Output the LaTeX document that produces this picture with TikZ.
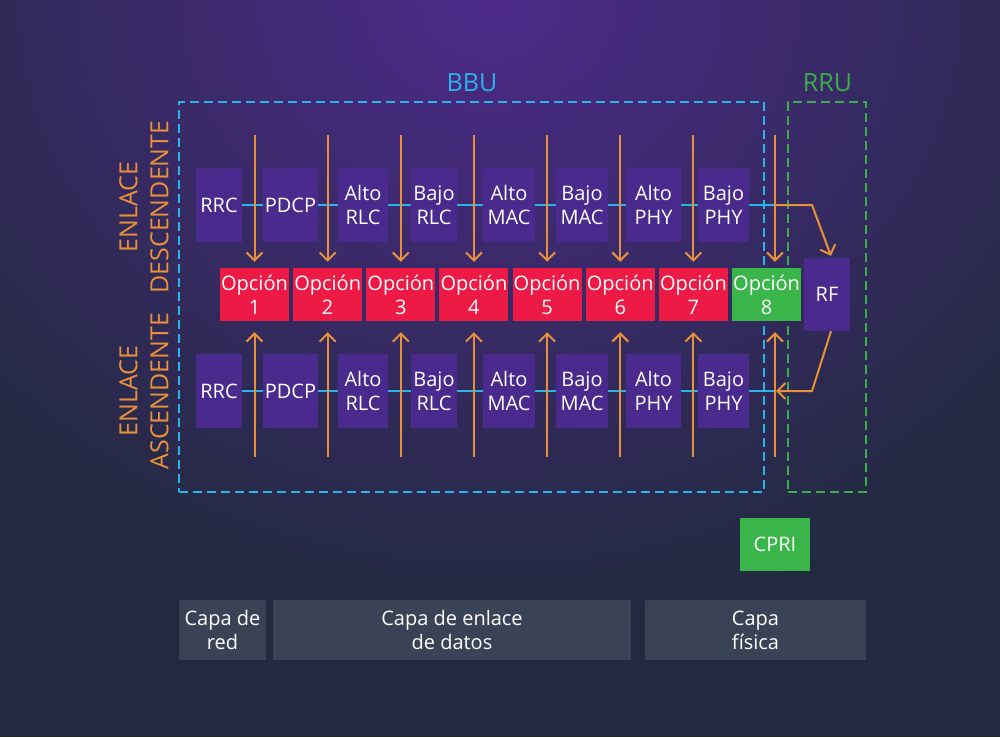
\documentclass[tikz,border=0pt]{standalone}
\usepackage{fontspec}
\setmainfont{Open Sans}
\usepackage{tikz}
\usetikzlibrary{arrows.meta,positioning}

\definecolor{bgdark}{HTML}{222A3F}
\definecolor{glowA}{HTML}{4D2A8A}
\definecolor{boxpurple}{HTML}{4A2A8C}
\definecolor{optred}{HTML}{EC1A45}
\definecolor{optgreen}{HTML}{3AB54A}
\definecolor{linecyan}{HTML}{29B5E8}
\definecolor{rrugreen}{HTML}{3AAE4A}
\definecolor{flowor}{HTML}{E8913B}
\definecolor{layergray}{HTML}{3A4356}

\begin{document}
\begin{tikzpicture}[x=1pt,y=-1pt,>={Straight Barb[length=8pt,width=16pt]},
		every node/.style={font=\fontsize{20}{24}\selectfont}]
		\tikzstyle{layer}=[rectangle, fill=boxpurple, text=white, minimum height=74pt, inner sep=0pt, align=center]
		\tikzstyle{option}=[rectangle, fill=optred, text=white, minimum width=69pt, minimum height=53pt, inner sep=0pt, align=center]
		\tikzstyle{capa}=[rectangle, fill=layergray, text=white, minimum height=60pt, inner sep=0pt, align=center]
		\tikzstyle{frame}=[rectangle, line width=2pt, dash pattern=on 9pt off 5pt, minimum height=390pt, inner sep=0pt]
		\tikzstyle{link}=[draw=linecyan, line width=2.5pt]
		\tikzstyle{flow}=[draw=flowor, line width=2pt]

		% background
		\fill[bgdark] (0,0) rectangle (1000,737);
		\begin{scope}
			\clip (0,0) rectangle (1000,737);
			\foreach \k in {0,...,40} {
				\pgfmathsetmacro\f{1-\k/41}
				\pgfmathtruncatemacro\p{100*\k/40}
				\fill[glowA!\p!bgdark] (490,0) ellipse [x radius=740*\f, y radius=640*\f];
			}
		\end{scope}
		\useasboundingbox (0,0) rectangle (1000,737);

		% BBU / RRU
		\node [frame, draw=linecyan, minimum width=585pt] (bbu) at (471.5,297) {};
		\node [frame, draw=rrugreen, minimum width=78pt] (rru) at (827,297) {};
		\node [anchor=base, text=linecyan, font=\fontsize{25}{30}\selectfont] (bbu label) at (472,91) {BBU};
		\node [anchor=base, text=rrugreen, font=\fontsize{25}{30}\selectfont] (rru label) at (827.5,91) {RRU};

		\node [rotate=90, align=center, text=flowor, font=\fontsize{25}{31}\selectfont] (down label) at (144,207) {ENLACE\\DESCENDENTE};
		\node [rotate=90, align=center, text=flowor, font=\fontsize{25}{31}\selectfont] (up label) at (144,391) {ENLACE\\ASCENDENTE};

		% enlace descendente
		\node [layer, minimum width=46pt] (d1) at (219,205) {RRC};
		\node [layer, minimum width=55pt] (d2) at (290.5,205) {PDCP};
		\node [layer, minimum width=50pt] (d3) at (363,205) {Alto\\RLC};
		\node [layer, minimum width=46pt] (d4) at (434,205) {Bajo\\RLC};
		\node [layer, minimum width=52pt] (d5) at (509,205) {Alto\\MAC};
		\node [layer, minimum width=52pt] (d6) at (582,205) {Bajo\\MAC};
		\node [layer, minimum width=55pt] (d7) at (653.5,205) {Alto\\PHY};
		\node [layer, minimum width=51pt] (d8) at (723.5,205) {Bajo\\PHY};

		% enlace ascendente
		\node [layer, minimum width=46pt] (u1) at (219,391) {RRC};
		\node [layer, minimum width=55pt] (u2) at (290.5,391) {PDCP};
		\node [layer, minimum width=50pt] (u3) at (363,391) {Alto\\RLC};
		\node [layer, minimum width=46pt] (u4) at (434,391) {Bajo\\RLC};
		\node [layer, minimum width=52pt] (u5) at (509,391) {Alto\\MAC};
		\node [layer, minimum width=52pt] (u6) at (582,391) {Bajo\\MAC};
		\node [layer, minimum width=55pt] (u7) at (653.5,391) {Alto\\PHY};
		\node [layer, minimum width=51pt] (u8) at (723.5,391) {Bajo\\PHY};

		% opciones
		\node [option] (o1) at (254.5,294.5) {Opción\\1};
		\node [option] (o2) [right=3.75pt of o1] {Opción\\2};
		\node [option] (o3) [right=3.75pt of o2] {Opción\\3};
		\node [option] (o4) [right=3.75pt of o3] {Opción\\4};
		\node [option] (o5) [right=3.75pt of o4] {Opción\\5};
		\node [option] (o6) [right=3.75pt of o5] {Opción\\6};
		\node [option] (o7) [right=3.75pt of o6] {Opción\\7};
		\node [option, fill=optgreen] (o8) [right=3.75pt of o7] {Opción\\8};

		\node [layer, minimum width=46pt, minimum height=73pt] (rf) at (827,294.5) {RF};

		\coordinate (top) at (0,135);
		\coordinate (bottom) at (0,457);
		\coordinate (x8) at (775,294.5);
		\coordinate (dl) at (x8 |- d8);
		\coordinate (dk) at (812,205);
		\coordinate (ul) at (x8 |- u8);
		\coordinate (uk) at (812,391);

		\draw[link] (d1.east) -- (d2.west) (d2.east) -- (d3.west) (d3.east) -- (d4.west) (d4.east) -- (d5.west)
			(d5.east) -- (d6.west) (d6.east) -- (d7.west) (d7.east) -- (d8.west) (d8.east) -- (dl);
		\draw[link] (u1.east) -- (u2.west) (u2.east) -- (u3.west) (u3.east) -- (u4.west) (u4.east) -- (u5.west)
			(u5.east) -- (u6.west) (u6.east) -- (u7.west) (u7.east) -- (u8.west) (u8.east) -- (ul);

		\foreach \i in {1,...,7} {
			\draw[flow,->,shorten >=6pt] (o\i |- top) -- (o\i.north);
			\draw[flow,->,shorten >=11pt] (o\i |- bottom) -- (o\i.south);
		}
		\draw[flow,->,shorten >=6pt] (x8 |- top) -- (x8 |- o8.north);
		\draw[flow,->,shorten >=11pt] (x8 |- bottom) -- (x8 |- o8.south);

		\draw[flow,->] (dl) -- (dk) -- ([xshift=4pt,yshift=2pt]rf.north);
		\draw[flow,->] ([xshift=4pt]rf.south) -- (uk) -- ([xshift=1pt]ul);

		% capas
		\node [fill=optgreen, text=white, minimum width=70pt, minimum height=53pt, inner sep=0pt] (cpri) at (775,544.5) {CPRI};
		\node [capa, minimum width=87pt] (red) at (222.5,630) {Capa de\\red};
		\node [capa, minimum width=358pt] (datos) at (452,630) {Capa de enlace\\de datos};
		\node [capa, minimum width=221pt] (fisica) at (755.5,630) {Capa\\física};
	\end{tikzpicture}
\end{document}
